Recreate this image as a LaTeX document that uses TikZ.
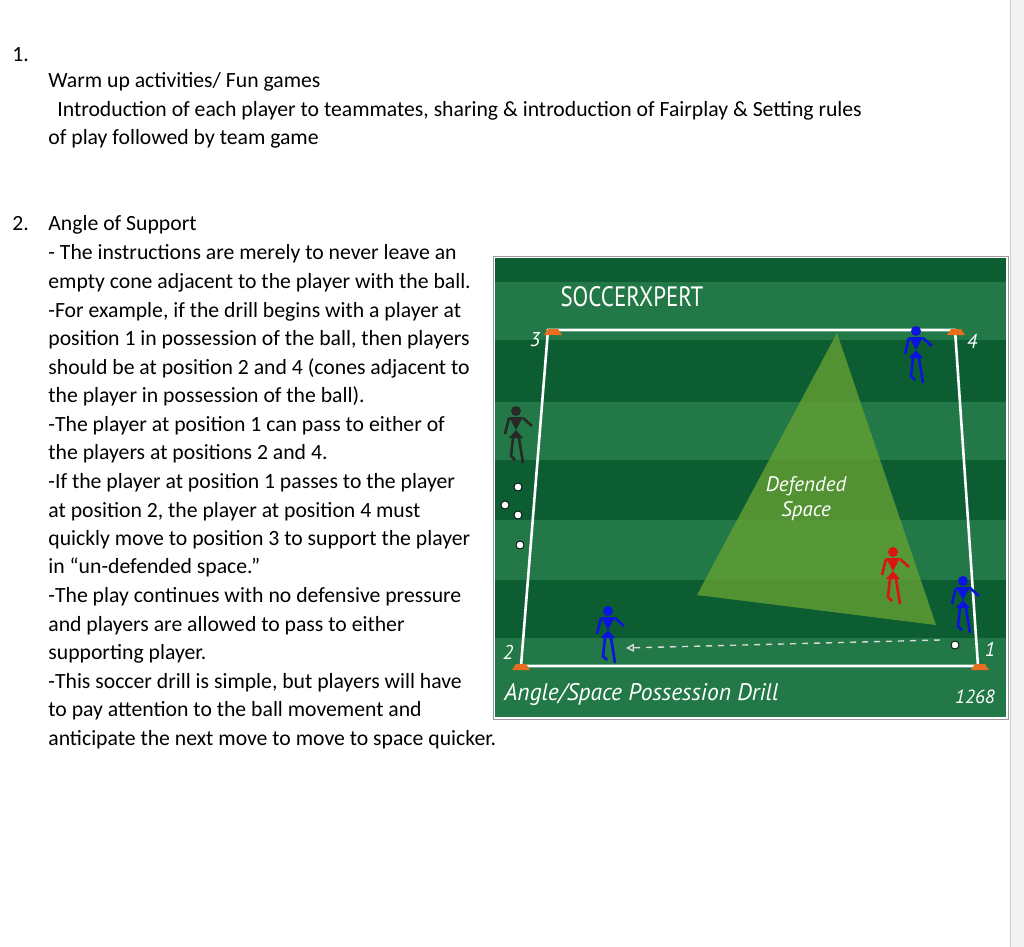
\documentclass[tikz,border=0pt]{standalone}
\usepackage{fontspec}
\setmainfont{Carlito}
\newfontfamily\fieldfont{PT Sans}
\usetikzlibrary{arrows.meta}
\definecolor{grassdark}{RGB}{12,94,50}
\definecolor{grasslight}{RGB}{34,120,70}
\definecolor{zone}{RGB}{100,160,50}
\definecolor{cone}{RGB}{230,110,30}
\definecolor{pblue}{RGB}{10,20,220}
\definecolor{pred}{RGB}{220,20,20}
\definecolor{pdark}{RGB}{40,40,40}
\newcommand{\txtline}[3]{\node[doc, anchor=base west] (#1) at (#2) {#3};}
\tikzset{
  doc/.style={inner sep=0pt, font=\fontsize{10.85}{12}\selectfont},
  fieldlabel/.style={text=white, inner sep=0pt, font=\fieldfont\itshape\fontsize{10}{10}\selectfont},
  ball/.style={circle, draw=black, fill=white, inner sep=0pt, minimum size=4pt, line width=0.4pt},
  pics/player/.style={code={
    \fill[#1] (0,5) circle[radius=5];
    \fill[#1] (-7,11) -- (7,11) -- (0,24) -- (7,32) -- (-7,32) -- (0,24) -- cycle;
    \draw[#1, line width=1.3pt] (-7,12) -- (-11,28) (7,12) -- (16,20)
      (-3,32) -- (-5,50) -- (-1,54) (3,32) -- (7,57);
  }},
  pics/marker/.style={code={
    \fill[cone] (-9,3) -- (-5,-3) -- (5,-3) -- (9,3) -- cycle;
  }}
}
\begin{document}
\begin{tikzpicture}[x=0.5pt, y=-0.5pt]
  \useasboundingbox (0,0) rectangle (1024,947);
  \fill[white] (0,0) rectangle (1024,947);
  \fill[black!5] (1010,0) rectangle (1024,947);
  \draw[black!20] (1010,0) -- (1010,947);

  % text column
  \txtline{n1}{12,62}{1.}
  \txtline{t1}{48,88}{Warm up activities/ Fun games}
  \txtline{t2}{57,117}{Introduction of each player to teammates, sharing \& introduction of Fairplay \& Setting rules}
  \txtline{t3}{48,145}{of play followed by team game}
  \txtline{n2}{12,231}{2.}
  \txtline{s0}{48,231}{Angle of Support}
  \txtline{s1}{48,260}{- The instructions are merely to never leave an}
  \txtline{s2}{48,288}{empty cone adjacent to the player with the ball.}
  \txtline{s3}{48,317}{-For example, if the drill begins with a player at}
  \txtline{s4}{48,345}{position 1 in possession of the ball, then players}
  \txtline{s5}{48,374}{should be at position 2 and 4 (cones adjacent to}
  \txtline{s6}{48,402}{the player in possession of the ball).}
  \txtline{s7}{48,431}{-The player at position 1 can pass to either of}
  \txtline{s8}{48,459}{the players at positions 2 and 4.}
  \txtline{s9}{48,488}{-If the player at position 1 passes to the player}
  \txtline{s10}{48,517}{at position 2, the player at position 4 must}
  \txtline{s11}{48,545}{quickly move to position 3 to support the player}
  \txtline{s12}{48,573}{in ``un-defended space.''}
  \txtline{s13}{48,602}{-The play continues with no defensive pressure}
  \txtline{s14}{48,631}{and players are allowed to pass to either}
  \txtline{s15}{48,659}{supporting player.}
  \txtline{s16}{48,688}{-This soccer drill is simple, but players will have}
  \txtline{s17}{48,716}{to pay attention to the ball movement and}
  \txtline{s18}{48,745}{anticipate the next move to move to space quicker.}

  % field
  \fill[grassdark] (495,258) rectangle (1006,717);
  \foreach \ya/\yb in {282/340, 402/460, 520/580, 638/717}
    \fill[grasslight] (495,\ya) rectangle (1006,\yb);
  \draw[black!40] (493,256) rectangle (1008,719);
  \fill[zone, opacity=0.8] (837,333) -- (697,595) -- (936,625) -- cycle;
  \draw[white, line width=1.3pt] (548,330) -- (955,330) -- (978,666) -- (521,666) -- cycle;
  \pic at (553,332) {marker};
  \pic at (956,332) {marker};
  \pic at (521,667) {marker};
  \pic at (980,667) {marker};
  \node[fieldlabel] (c3) at (535,340) {3};
  \node[fieldlabel] (c4) at (972,341) {4};
  \node[fieldlabel] (c2) at (508,652) {2};
  \node[fieldlabel] (c1) at (990,649) {1};
  \node[text=white, inner sep=0pt, font=\fieldfont\fontsize{14}{14}\selectfont, xscale=0.82] (logo) at (632,297) {SOCCERXPERT};
  \node[fieldlabel, align=center, font=\fieldfont\itshape\fontsize{10.5}{12.5}\selectfont] (zonelabel) at (806,499) {Defended\\Space};
  \node[fieldlabel, anchor=west, font=\fieldfont\itshape\fontsize{12}{12}\selectfont, xscale=0.98] (title) at (504,694) {Angle/Space Possession Drill};
  \node[fieldlabel, font=\fieldfont\itshape\fontsize{9.5}{10}\selectfont] (num) at (975,697) {1268};

  % players and balls
  \pic at (916,326) {player=pblue};
  \pic at (963,576) {player=pblue};
  \pic at (608,606) {player=pblue};
  \pic at (893,547) {player=pred};
  \pic at (516,406) {player=pdark};
  \node[ball] (b1) at (518,487) {};
  \node[ball] (b2) at (505,505) {};
  \node[ball] (b3) at (518,515) {};
  \node[ball] (b4) at (520,545) {};
  \node[ball] (b5) at (955,645) {};
  \coordinate (passend) at (626,648);
  \draw[white!85!black, dashed, line width=0.7pt, -{Triangle[open, length=4pt, width=4pt]}] (940,640) -- (passend);
\end{tikzpicture}
\end{document}
